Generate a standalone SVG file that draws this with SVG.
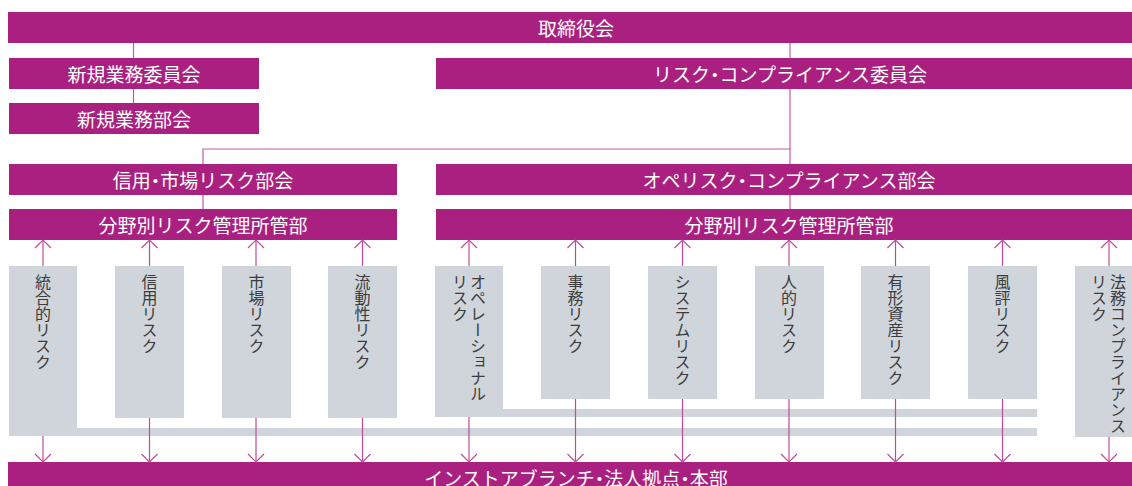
<svg xmlns="http://www.w3.org/2000/svg" width="1132" height="486" viewBox="0 0 1132 486">
<style>
.bar{fill:#AA2080}
.bt{fill:#fff;font-family:"Noto Sans CJK JP","Noto Sans",sans-serif;font-size:19px;text-anchor:middle;dominant-baseline:central}
.dot{font-feature-settings:"palt"}
.box{fill:#CFD5DB}
.vt{fill:#3c3c3c;font-family:"Noto Sans CJK JP","Noto Sans",sans-serif;font-size:16px;writing-mode:vertical-rl;text-anchor:start}
.ln{stroke:#C55AA6;stroke-width:1.2;fill:none}
.ar{stroke:#C04A98;stroke-width:1.2;fill:none;marker-end:url(#ah)}
</style>
<defs>
<marker id="ah" markerUnits="userSpaceOnUse" viewBox="-10 -10 20 20" markerWidth="20" markerHeight="20" refX="0" refY="0" orient="auto" overflow="visible">
<path d="M-8,-8 L0,0 L-8,8" fill="none" stroke="#C04A98" stroke-width="1.2"/>
</marker>
</defs>
<rect width="1132" height="486" fill="#fff"/>
<g id="lines">
<line class="ln" x1="133.5" y1="43" x2="133.5" y2="103"/>
<line class="ln" x1="790" y1="43" x2="790" y2="209"/>
<polyline class="ln" points="790,149 203,149 203,209"/>
</g>
<g id="n-board"><rect class="bar" x="8" y="12" width="1124" height="31"/><text class="bt" x="576" y="27.5">取締役会</text></g>
<g id="n-newcom"><rect class="bar" x="9" y="58" width="250" height="31"/><text class="bt" x="134" y="73.5">新規業務委員会</text></g>
<g id="n-newdept"><rect class="bar" x="9" y="103" width="250" height="31"/><text class="bt" x="134" y="118.5">新規業務部会</text></g>
<g id="n-rccom"><rect class="bar" x="436" y="58" width="696" height="31"/><text class="bt" x="790" y="73.5">リスク<tspan class="dot">・</tspan>コンプライアンス委員会</text></g>
<g id="n-credit"><rect class="bar" x="9" y="164" width="388" height="31"/><text class="bt" x="203" y="179.5">信用<tspan class="dot">・</tspan>市場リスク部会</text></g>
<g id="n-fieldL"><rect class="bar" x="9" y="209" width="388" height="31"/><text class="bt" x="203" y="224.5">分野別リスク管理所管部</text></g>
<g id="n-ope"><rect class="bar" x="436" y="164" width="696" height="31"/><text class="bt" x="789" y="179.5">オペリスク<tspan class="dot">・</tspan>コンプライアンス部会</text></g>
<g id="n-fieldR"><rect class="bar" x="436" y="209" width="696" height="31"/><text class="bt" x="789" y="224.5">分野別リスク管理所管部</text></g>
<g id="n-bottom"><rect class="bar" x="8" y="462" width="1124" height="24"/><text class="bt" x="576" y="477.5">インストアブランチ<tspan class="dot">・</tspan>法人拠点<tspan class="dot">・</tspan>本部</text></g>

<g id="r1"><path class="box" d="M9,266 H77 V428 H1037 V436 H9 Z"/><text class="vt" x="43" y="274">統合的リスク</text></g>
<g id="r2"><rect class="box" x="115" y="266" width="69" height="152"/><text class="vt" x="149.5" y="274">信用リスク</text></g>
<g id="r3"><rect class="box" x="222" y="266" width="69" height="152"/><text class="vt" x="256.5" y="274">市場リスク</text></g>
<g id="r4"><rect class="box" x="328" y="266" width="69" height="152"/><text class="vt" x="362.5" y="274">流動性リスク</text></g>
<g id="r5"><path class="box" d="M435,266 H503 V409 H1037 V417 H435 Z"/><text class="vt" x="478" y="274">オペレーショナル</text><text class="vt" x="460" y="274">リスク</text></g>
<g id="r6"><rect class="box" x="541" y="266" width="69" height="133"/><text class="vt" x="575.5" y="274">事務リスク</text></g>
<g id="r7"><rect class="box" x="648" y="266" width="69" height="133"/><text class="vt" x="682.5" y="274">システムリスク</text></g>
<g id="r8"><rect class="box" x="755" y="266" width="69" height="133"/><text class="vt" x="789" y="274">人的リスク</text></g>
<g id="r9"><rect class="box" x="861" y="266" width="69" height="133"/><text class="vt" x="895.5" y="274">有形資産リスク</text></g>
<g id="r10"><rect class="box" x="968" y="266" width="69" height="133"/><text class="vt" x="1002.5" y="274">風評リスク</text></g>
<g id="r11"><rect class="box" x="1075" y="266" width="69" height="171"/><text class="vt" x="1118" y="274">法務コンプライアンス</text><text class="vt" x="1099" y="274">リスク</text></g>

<g id="connectors">
<line class="ar" x1="43" y1="266" x2="43" y2="240"/><line class="ar" x1="43" y1="436" x2="43" y2="462"/>
<line class="ar" x1="149.5" y1="266" x2="149.5" y2="240"/><line class="ar" x1="149.5" y1="418" x2="149.5" y2="462"/>
<line class="ar" x1="256" y1="266" x2="256" y2="240"/><line class="ar" x1="256" y1="418" x2="256" y2="462"/>
<line class="ar" x1="362.5" y1="266" x2="362.5" y2="240"/><line class="ar" x1="362.5" y1="418" x2="362.5" y2="462"/>
<line class="ar" x1="469" y1="266" x2="469" y2="240"/><line class="ar" x1="469" y1="417" x2="469" y2="462"/>
<line class="ar" x1="575.5" y1="266" x2="575.5" y2="240"/><line class="ar" x1="575.5" y1="399" x2="575.5" y2="462"/>
<line class="ar" x1="682.5" y1="266" x2="682.5" y2="240"/><line class="ar" x1="682.5" y1="399" x2="682.5" y2="462"/>
<line class="ar" x1="789" y1="266" x2="789" y2="240"/><line class="ar" x1="789" y1="399" x2="789" y2="462"/>
<line class="ar" x1="895.5" y1="266" x2="895.5" y2="240"/><line class="ar" x1="895.5" y1="399" x2="895.5" y2="462"/>
<line class="ar" x1="1002.5" y1="266" x2="1002.5" y2="240"/><line class="ar" x1="1002.5" y1="399" x2="1002.5" y2="462"/>
<line class="ar" x1="1109" y1="266" x2="1109" y2="240"/><line class="ar" x1="1109" y1="437" x2="1109" y2="462"/>
</g>
</svg>
